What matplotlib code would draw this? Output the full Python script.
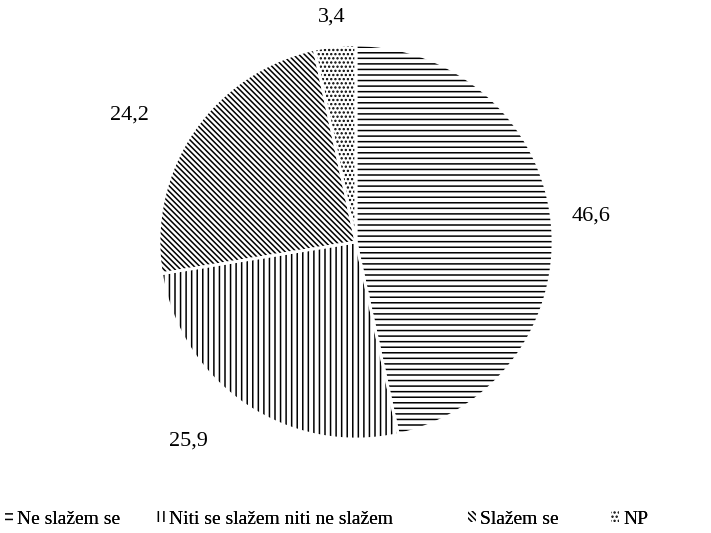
import numpy as np
import matplotlib
matplotlib.use('Agg')
import matplotlib.pyplot as plt

plt.rcParams['font.family'] = ['Liberation Serif', 'DejaVu Serif']
plt.rcParams['hatch.linewidth'] = 1.1
plt.rcParams['hatch.color'] = 'black'

categories = ['Ne slažem se', 'Niti se slažem niti ne slažem', 'Slažem se', 'NP']
values = [46.6, 25.9, 24.2, 3.4]
value_labels = ['46,6', '25,9', '24,2', '3,4']
hatches = ['---', '|||', '\\' * 6, '....']

# label placement (radius factor, angle offset in degrees)
label_dist = [1.18, 1.30, 1.30, 1.13]
label_shift = [0, -6, 5, 0]
# legend entry x positions (figure pixels)
legend_x = [-9, 143, 454, 597]

fig = plt.figure(figsize=(7.11, 5.33), dpi=100)
ax = fig.add_axes([156 / 711, (533 - 242 - 200) / 533, 400 / 711, 400 / 533])

wedges, _ = ax.pie(values, startangle=90, counterclock=False, radius=0.985,
                   wedgeprops=dict(facecolor='white', edgecolor='black', linewidth=0))
for w, h in zip(wedges, hatches):
    w.set_hatch(h)

# white separators between slices
ax.pie(values, startangle=90, counterclock=False, radius=0.985,
       wedgeprops=dict(fill=False, edgecolor='white', linewidth=2))

for w, txt, d, s in zip(wedges, value_labels, label_dist, label_shift):
    ang = np.deg2rad((w.theta1 + w.theta2) / 2 + s)
    ax.text(d * np.cos(ang), d * np.sin(ang), txt, ha='center', va='center', fontsize=16)

ax.set_xlim(-1, 1)
ax.set_ylim(-1, 1)
ax.set_aspect('equal')
ax.axis('off')

for w, name, x in zip(wedges, categories, legend_x):
    leg = fig.legend([w], [name], loc='center left', bbox_to_anchor=(x / 711, 1 - 519 / 533),
                     frameon=False, fontsize=14, handlelength=0.45, handleheight=0.5,
                     handletextpad=0.2, borderpad=0.2)
    fig.add_artist(leg)

fig.savefig('out.png', dpi=100)
